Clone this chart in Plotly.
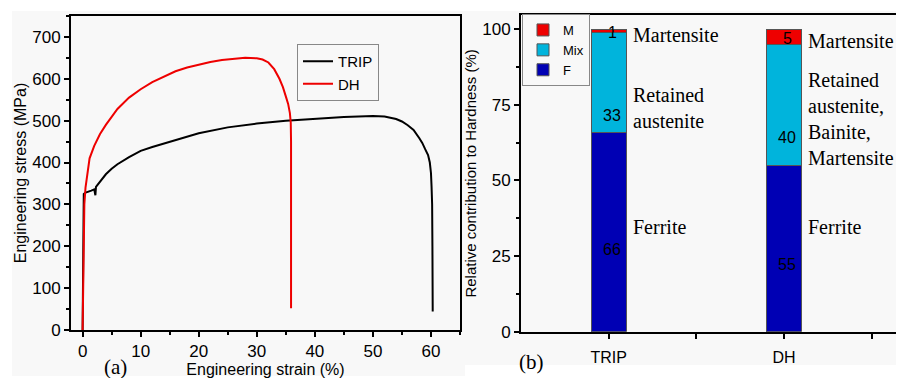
import plotly.graph_objects as go

# ---------------- data ----------------
trip_strain = [0, 0.1, 0.2, 0.5, 1.0, 1.5, 2.0, 2.2, 2.3, 3, 4, 5, 6, 8, 10, 12, 15, 18, 20, 25, 30,
               35, 40, 45, 50, 52, 54, 55, 56, 57, 58, 58.5, 59, 59.5, 59.8, 60, 60.1, 60.2, 60.25, 60.3]
trip_stress = [0, 200, 325, 328, 330, 333, 336, 322, 342, 355, 372, 385, 396, 413, 428, 437, 450, 463, 470, 484, 493,
               500, 505, 509, 511, 510, 504, 498, 489, 478, 458, 447, 432, 418, 400, 375, 343, 300, 200, 44]

dh_strain = [0, 0.15, 0.3, 0.5, 0.8, 1.2, 2, 3, 4, 5, 6, 8, 10, 12, 14, 16, 18, 20, 22, 24, 26, 28, 30,
             31, 32, 33, 33.9, 34.5, 35, 35.4, 35.7, 35.85, 35.9, 35.9]
dh_stress = [0, 200, 300, 340, 375, 410, 440, 468, 490, 510, 528, 555, 575, 592, 606, 618, 627, 634, 640, 645, 648, 650, 649,
             646, 639, 623, 600, 580, 558, 540, 518, 495, 450, 52]

steels = ["TRIP", "DH"]
ferrite = [66, 55]
mix = [33, 40]
martensite = [1, 5]

x_ticks_a = [0, 10, 20, 30, 40, 50, 60]
y_ticks_a = [0, 100, 200, 300, 400, 500, 600, 700]
y_ticks_b = [0, 25, 50, 75, 100]

W, H = 904, 378
OFF = 8  # page body margin: figure is drawn 8 px right/down of the window corner
SANS = "Liberation Sans, Arial, sans-serif"
SERIF = "Liberation Serif, Times New Roman, serif"

def px_x(p):
    return (p - OFF) / W

def px_y(p):
    return 1 - (p - OFF) / H

fig = go.Figure()

# ---- left panel: stress-strain curves ----
fig.add_trace(go.Scatter(x=trip_strain, y=trip_stress, mode="lines", name="TRIP",
                         line=dict(color="black", width=2), xaxis="x", yaxis="y", legend="legend"))
fig.add_trace(go.Scatter(x=dh_strain, y=dh_stress, mode="lines", name="DH",
                         line=dict(color="#ee0000", width=2), xaxis="x", yaxis="y", legend="legend"))

# ---- right panel: stacked bars ----
pos = list(range(len(steels)))
for vals, name, col in [(ferrite, "F", "#0000b4"), (mix, "Mix", "#00b4dc"), (martensite, "M", "#ee0000")]:
    fig.add_trace(go.Bar(x=pos, y=vals, name=name, width=0.2,
                         marker=dict(color=col, line=dict(color="#555555", width=1)),
                         xaxis="x2", yaxis="y2", legend="legend2"))

axis_common = dict(showline=True, linecolor="black", linewidth=2, ticks="outside", ticklen=5,
                   tickwidth=1.5, tickcolor="black", showgrid=False, zeroline=False,
                   automargin=False)
tick17 = dict(family=SANS, size=17, color="black")

x2_right = (W + OFF - 521) / 175.3 - 0.5

fig.update_layout(
    width=W, height=H,
    margin=dict(l=0, r=0, t=0, b=0),
    paper_bgcolor="white",
    plot_bgcolor="#f8f8f8",
    barmode="stack",
    showlegend=True,
    xaxis=dict(domain=[px_x(71), px_x(460)], range=[-2, 65], tickvals=x_ticks_a, mirror=True,
               tickfont=tick17,
               minor=dict(dtick=5, ticklen=3, tickcolor="black", ticks="outside"),
               title=dict(text="Engineering strain (%)", font=dict(family=SANS, size=16, color="black"), standoff=3),
               anchor="y", **axis_common),
    yaxis=dict(domain=[px_y(330), px_y(16)], range=[0, 750], tickvals=y_ticks_a, mirror=True,
               tickfont=tick17,
               minor=dict(dtick=50, ticklen=3, tickcolor="black", ticks="outside"),
               title=dict(text="Engineering stress (MPa)", font=dict(family=SANS, size=16, color="black"), standoff=2),
               anchor="x", **axis_common),
    xaxis2=dict(domain=[px_x(521), 1.0], range=[-0.5, x2_right], tickvals=pos, ticktext=steels, mirror=True,
                tickfont=dict(family=SANS, size=16, color="black"),
                minor=dict(tickvals=[0.5, 1.5], ticklen=5, tickcolor="black", ticks="outside"),
                ticklabelstandoff=5, anchor="y2", **axis_common),
    yaxis2=dict(domain=[px_y(331.7), px_y(15)], range=[0, 104.7], tickvals=y_ticks_b, mirror=False,
                tickfont=tick17,
                minor=dict(dtick=12.5, ticklen=3, tickcolor="black", ticks="outside"),
                title=dict(text="Relative contribution to Hardness (%)", font=dict(family=SANS, size=15, color="black"), standoff=2),
                anchor="x2", **axis_common),
    legend=dict(x=px_x(297), y=px_y(44), xanchor="left", yanchor="top",
                bgcolor="rgba(0,0,0,0)", bordercolor="#888888", borderwidth=1,
                font=dict(family=SANS, size=15, color="black"), tracegroupgap=0),
    legend2=dict(x=px_x(522), y=px_y(14), xanchor="left", yanchor="top", traceorder="reversed",
                 bgcolor="rgba(0,0,0,0)", bordercolor="#888888", borderwidth=1,
                 font=dict(family=SANS, size=13, color="black"), tracegroupgap=0),
)

# background panels (light grey like the reference picture)
fig.add_shape(type="rect", xref="paper", yref="paper", x0=px_x(12), x1=px_x(465), y0=px_y(376), y1=px_y(11),
              fillcolor="#f8f8f8", line=dict(width=0), layer="below")
fig.add_shape(type="rect", xref="paper", yref="paper", x0=px_x(465), x1=1, y0=px_y(365), y1=px_y(11),
              fillcolor="#f8f8f8", line=dict(width=0), layer="below")

ann = []
# panel labels
ann.append(dict(text="(a)", x=px_x(115), y=px_y(367), xref="paper", yref="paper", showarrow=False,
                xanchor="center", yanchor="middle", font=dict(family=SERIF, size=21, color="black")))
ann.append(dict(text="(b)", x=px_x(531), y=px_y(362), xref="paper", yref="paper", showarrow=False,
                xanchor="center", yanchor="middle", font=dict(family=SERIF, size=21, color="black")))

# value labels in bars
label_y = {"TRIP": (27.3, 71.4, 99.0), "DH": (22.1, 64.3, 97.0)}
for i, s in enumerate(steels):
    for v, yy in zip((ferrite[i], mix[i], martensite[i]), label_y[s]):
        ann.append(dict(text=str(v), x=i + 0.02, y=yy, xref="x2", yref="y2", showarrow=False,
                        xanchor="center", yanchor="middle",
                        font=dict(family=SANS, size=16, color="black")))

# phase names
phase_text = {
    "TRIP": [("Martensite", 98.1), ("Retained<br>austenite", 73.9), ("Ferrite", 34.7)],
    "DH": [("Martensite", 96.1), ("Retained<br>austenite,<br>Bainite,<br>Martensite", 70.2), ("Ferrite", 34.7)],
}
for i, s in enumerate(steels):
    for t, yy in phase_text[s]:
        ann.append(dict(text=t, x=i + 0.125, y=yy, xref="x2", yref="y2", showarrow=False,
                        xanchor="left", yanchor="middle", align="left",
                        font=dict(family=SERIF, size=20, color="black")))

fig.update_layout(annotations=ann)

fig.write_html("out.html")
